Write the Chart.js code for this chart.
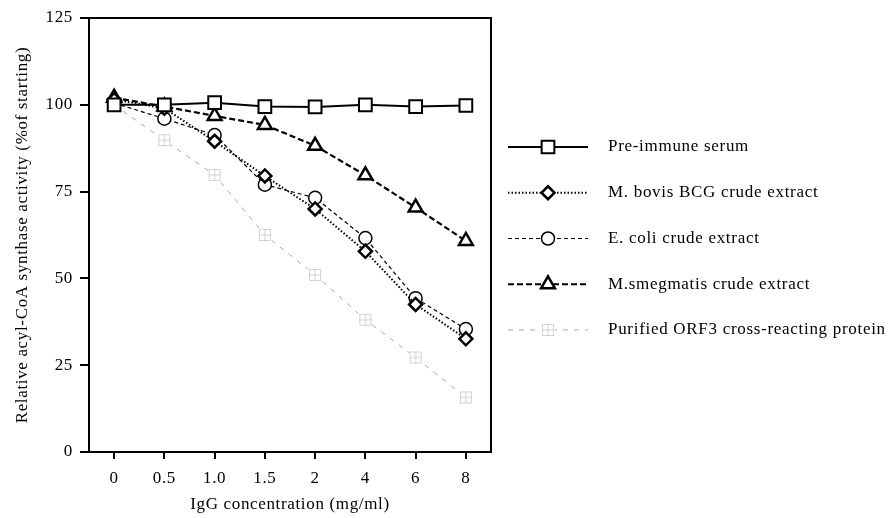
<!DOCTYPE html>
<html>
<head>
<meta charset="utf-8">
<script src="https://cdn.jsdelivr.net/npm/chart.js@4/dist/chart.umd.min.js"></script>
<style>
  html, body { margin: 0; padding: 0; background: #fff; }
  #wrap { width: 888px; height: 518px; }
</style>
</head>
<body>
<div id="wrap"><canvas id="c" width="888" height="518"></canvas></div>
<script>
// IgG concentrations (mg/ml), as shown on the x axis
var concentrations = ["0", "0.5", "1.0", "1.5", "2", "4", "6", "8"];

// relative acyl-CoA synthase activity (% of starting)
var preImmune   = [100, 100, 100.6, 99.5, 99.4, 100, 99.5, 99.8];
var bovisBCG    = [101.5, 99, 89.5, 79.5, 70, 57.8, 42.5, 32.6];
var eColi       = [100.5, 96, 91.3, 77, 73.2, 61.6, 44.3, 35.4];
var smegmatis   = [102, 99.5, 96.8, 94.2, 88.2, 79.7, 70.4, 60.8];
var purifiedORF = [100, 89.8, 79.8, 62.5, 51, 38.1, 27.2, 15.7];

var yTicks = [0, 25, 50, 75, 100, 125];

var serif = "'Liberation Serif', 'Times New Roman', serif";
var gray = "#a8a8a8";
var spacing = "0.65px"; // the scanned type is set a little loose

// grey square with a cross in it, used for the purified protein series
function crossSquare() {
  var cv = document.createElement("canvas");
  cv.width = 14; cv.height = 14;
  var g = cv.getContext("2d");
  g.fillStyle = "#fff";
  g.fillRect(0, 0, 14, 14);
  g.strokeStyle = gray;
  g.lineWidth = 1;
  g.setLineDash([1, 1]);
  g.strokeRect(1.5, 1.5, 11, 11);
  g.beginPath();
  g.moveTo(7, 1.5); g.lineTo(7, 12.5);
  g.moveTo(1.5, 7); g.lineTo(12.5, 7);
  g.stroke();
  return cv;
}
var crossImg = crossSquare();

function drawMarker(ctx, ds, x, y) {
  var r = ds.pointRadius;
  ctx.save();
  ctx.setLineDash([]);
  ctx.fillStyle = "#fff";
  ctx.strokeStyle = ds.pointBorderColor;
  ctx.lineWidth = ds.pointBorderWidth;
  ctx.beginPath();
  if (ds.pointStyle === "rect") {
    var s = Math.SQRT1_2 * r;
    ctx.rect(x - s, y - s, 2 * s, 2 * s);
  } else if (ds.pointStyle === "rectRot") {
    ctx.moveTo(x, y - r); ctx.lineTo(x + r, y); ctx.lineTo(x, y + r); ctx.lineTo(x - r, y); ctx.closePath();
  } else if (ds.pointStyle === "circle") {
    ctx.arc(x, y, r, 0, Math.PI * 2);
  } else if (ds.pointStyle === "triangle") {
    ctx.moveTo(x, y - r);
    ctx.lineTo(x + r * 0.866, y + r * 0.5);
    ctx.lineTo(x - r * 0.866, y + r * 0.5);
    ctx.closePath();
  } else {
    ctx.drawImage(ds.pointStyle, x - 7, y - 7);
    ctx.restore();
    return;
  }
  ctx.fill();
  ctx.stroke();
  ctx.restore();
}

var legendFrame = {
  id: "legendFrame",
  beforeLayout: function(chart) { chart.ctx.letterSpacing = spacing; },
  beforeDraw: function(chart) { chart.ctx.letterSpacing = spacing; },
  afterDraw: function(chart) {
    var ctx = chart.ctx, a = chart.chartArea;
    ctx.save();
    // top and right edges of the box
    ctx.strokeStyle = "#000";
    ctx.lineWidth = 2;
    ctx.beginPath();
    ctx.moveTo(a.left, a.top);
    ctx.lineTo(a.right, a.top);
    ctx.lineTo(a.right, a.bottom);
    ctx.stroke();

    // legend
    chart.data.datasets.forEach(function(ds, i) {
      var y = 147 + 45.75 * i;
      ctx.beginPath();
      ctx.strokeStyle = ds.borderColor;
      ctx.lineWidth = ds.borderWidth;
      ctx.setLineDash(ds.borderDash || []);
      ctx.moveTo(508, y);
      ctx.lineTo(588, y);
      ctx.stroke();
      drawMarker(ctx, ds, 548, y);
      ctx.setLineDash([]);
      ctx.fillStyle = "#000";
      ctx.font = "17px " + serif;
      ctx.letterSpacing = "0.7px";
      ctx.textBaseline = "middle";
      ctx.textAlign = "left";
      ctx.fillText(ds.label, 608, y);
    });
    ctx.restore();
  }
};

var common = { pointBackgroundColor: "#fff", pointHoverRadius: 0, tension: 0, fill: false };

var data = {
  labels: concentrations,
  datasets: [
    Object.assign({ label: "Pre-immune serum", data: preImmune, borderColor: "#000", borderWidth: 2,
      borderDash: [], pointStyle: "rect", pointRadius: 9, pointBorderColor: "#000", pointBorderWidth: 2 }, common),
    Object.assign({ label: "M. bovis BCG crude extract", data: bovisBCG, borderColor: "#000", borderWidth: 2,
      borderDash: [1.5, 2], pointStyle: "rectRot", pointRadius: 6.5, pointBorderColor: "#000", pointBorderWidth: 2.5 }, common),
    Object.assign({ label: "E. coli crude extract", data: eColi, borderColor: "#000", borderWidth: 1.2,
      borderDash: [4, 3], pointStyle: "circle", pointRadius: 6.5, pointBorderColor: "#000", pointBorderWidth: 1.5 }, common),
    Object.assign({ label: "M.smegmatis crude extract", data: smegmatis, borderColor: "#000", borderWidth: 2.2,
      borderDash: [6, 3], pointStyle: "triangle", pointRadius: 8, pointBorderColor: "#000", pointBorderWidth: 2.5 }, common),
    Object.assign({ label: "Purified ORF3 cross-reacting protein", data: purifiedORF, borderColor: gray, borderWidth: 1,
      borderDash: [5, 6], pointStyle: crossImg, pointRadius: 7, pointBorderColor: gray, pointBorderWidth: 1 }, common)
  ]
};

new Chart(document.getElementById("c").getContext("2d"), {
  type: "line",
  data: data,
  plugins: [legendFrame],
  options: {
    responsive: false,
    animation: false,
    layout: { padding: { top: 18, right: 397, left: 0, bottom: 0 } },
    plugins: { legend: { display: false }, tooltip: { enabled: false } },
    scales: {
      x: {
        offset: true,
        grid: { offset: false, drawOnChartArea: false, drawTicks: true, tickLength: 7, color: "#000", lineWidth: 2 },
        border: { display: true, color: "#000", width: 2 },
        ticks: { color: "#000", font: { family: serif, size: 17 }, padding: 9, maxRotation: 0 },
        title: { display: true, text: "IgG concentration (mg/ml)", color: "#000",
          font: { family: serif, size: 17 }, padding: { top: 0, bottom: 3 } },
        afterFit: function(s) { s.height = 66; }
      },
      y: {
        min: 0, max: 125,
        afterBuildTicks: function(s) { s.ticks = yTicks.map(function(v) { return { value: v }; }); },
        grid: { drawOnChartArea: false, drawTicks: true, tickLength: 9, color: "#000", lineWidth: 2 },
        border: { display: true, color: "#000", width: 2 },
        ticks: { color: "#000", font: { family: serif, size: 17 }, padding: 7 },
        title: { display: true, text: "Relative acyl-CoA synthase activity (%of starting)", color: "#000",
          font: { family: serif, size: 17 }, padding: { top: 12, bottom: 0 } },
        afterFit: function(s) { s.width = 89; }
      }
    }
  }
});
</script>
</body>
</html>
